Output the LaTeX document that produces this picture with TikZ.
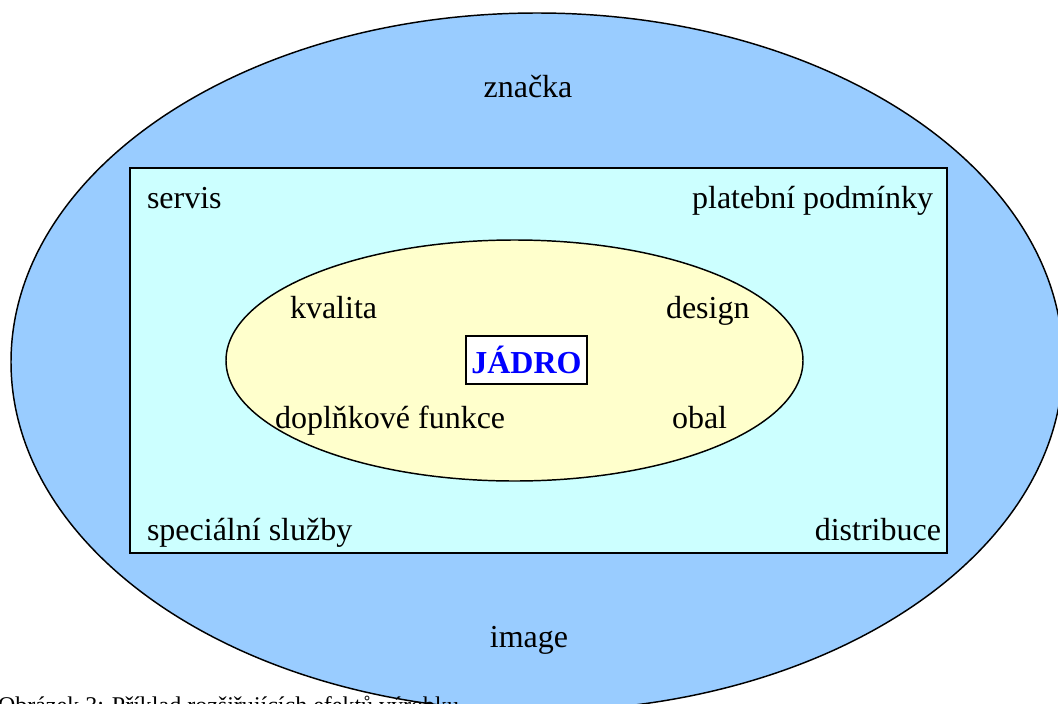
\documentclass[tikz,border=0pt]{standalone}
\usepackage{fontspec}
\setmainfont{Liberation Serif}
\usetikzlibrary{shapes.geometric}
\definecolor{outerblue}{HTML}{99CCFF}
\definecolor{ringcyan}{HTML}{CCFFFF}
\definecolor{coreyellow}{HTML}{FFFFCC}
\definecolor{coreblue}{HTML}{0000FF}
\begin{document}
\begin{tikzpicture}[x=0.75pt,y=-0.75pt,
  every node/.style={inner sep=0pt, outer sep=0pt},
  layer/.style={draw=black, line width=1.1pt},
  lbl/.style={font=\fontsize{24}{28}\selectfont},
  corebox/.style={draw=black, line width=1.4pt, fill=white, text=coreblue,
    font=\fontsize{24}{28}\selectfont\bfseries,
    minimum width=90.75pt, minimum height=36pt},
  captionlbl/.style={font=\fontsize{18}{22}\selectfont}]
\useasboundingbox (0,0) rectangle (1058,704);
\clip (0,0) rectangle (1058,704);

% outer layer: brand and image
\node[layer, ellipse, fill=outerblue, minimum width=789pt, minimum height=523.5pt]
  (outer) at (537,362) {};
% middle layer: services
\node[layer, rectangle, fill=ringcyan, minimum width=612.75pt, minimum height=288.75pt]
  (ring) at (538.5,360.5) {};
% inner layer: the product itself
\node[layer, ellipse, fill=coreyellow, minimum width=432.75pt, minimum height=180.75pt]
  (core) at (514.5,360.5) {};
\node[corebox] (jadro) at (526.5,360) {JÁDRO};

% labels
\node[lbl, anchor=base] (znacka) at (528,97) {značka};
\node[lbl, anchor=base] (image) at (529,647) {image};
\node[lbl, anchor=base west] (servis) at (147,208) {servis};
\node[lbl, anchor=base east] (platebni) at (933,208) {platební podmínky};
\node[lbl, anchor=base west] (specialni) at (147,540) {speciální služby};
\node[lbl, anchor=base east] (distribuce) at (941,540) {distribuce};
\node[lbl, anchor=base west] (kvalita) at (290,318) {kvalita};
\node[lbl, anchor=base west] (design) at (666,318) {design};
\node[lbl, anchor=base west] (doplnkove) at (275,428) {doplňkové funkce};
\node[lbl, anchor=base west] (obal) at (672,428) {obal};

% figure caption
\node[captionlbl, anchor=base west] (caption) at (-2,713)
  {Obrázek 3: Příklad rozšiřujících efektů výrobku};
\end{tikzpicture}
\end{document}
